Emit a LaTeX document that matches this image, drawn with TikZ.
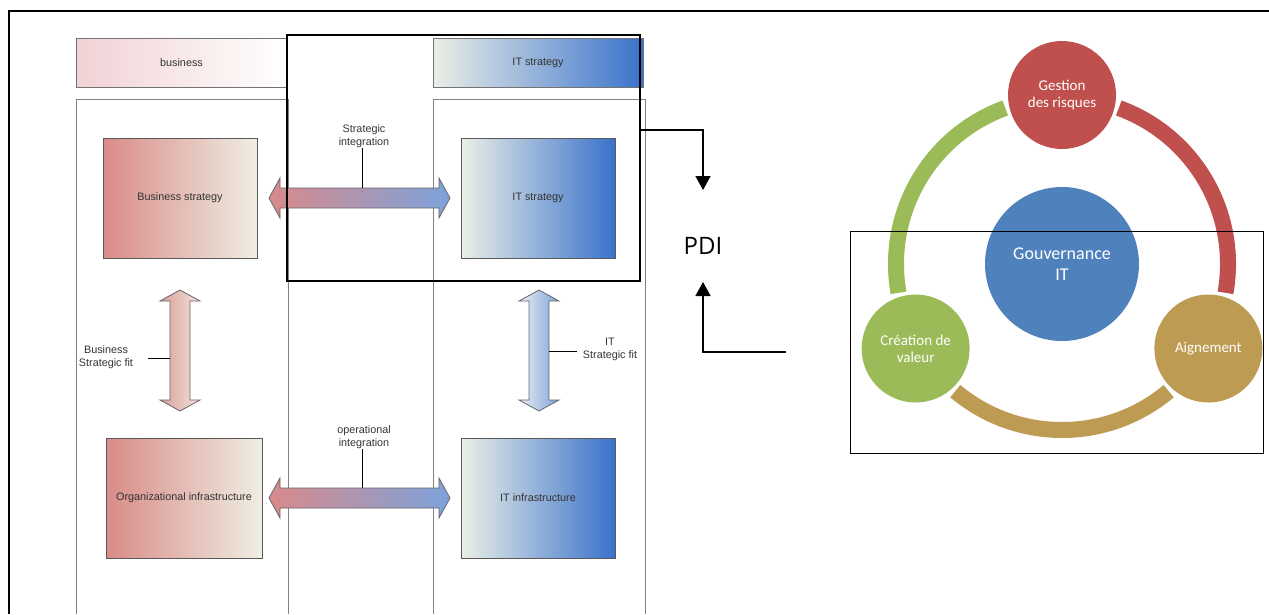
\documentclass[tikz,border=0pt]{standalone}
\usepackage{fontspec}
\usepackage{tikz}
\usetikzlibrary{arrows.meta,positioning}
\newfontfamily\lblfont{Liberation Sans}
\newfontfamily\circfont{Carlito}
\newfontfamily\pdifont{Open Sans}
\definecolor{bizpink}{HTML}{F1D2D5}
\definecolor{bizred}{HTML}{D98B88}
\definecolor{cream}{HTML}{EFEEE3}
\definecolor{itpale}{HTML}{EBEFE7}
\definecolor{itblue}{HTML}{3972CB}
\definecolor{arrred}{HTML}{D98A8B}
\definecolor{arrblue}{HTML}{7CA2DB}
\definecolor{fitred}{HTML}{D99F9A}
\definecolor{fitpale}{HTML}{F4E3DC}
\definecolor{fitpaleb}{HTML}{E8EFF7}
\definecolor{fitblue}{HTML}{7EA3D6}
\definecolor{riskred}{HTML}{C0504D}
\definecolor{valgreen}{HTML}{9BBB59}
\definecolor{aligngold}{HTML}{BE9B53}
\definecolor{govblue}{HTML}{4F81BD}
\tikzstyle{hdr}=[draw=black!55, line width=0.8pt, minimum height=49pt, inner sep=0pt, font=\lblfont\fontsize{10.8}{12.5}\selectfont, text=black!80]
\tikzstyle{blk}=[draw=black!65, line width=0.8pt, minimum width=154pt, minimum height=120pt, inner sep=0pt, font=\lblfont\fontsize{10.8}{12.5}\selectfont, text=black!80]
\tikzstyle{lbl}=[align=center, inner sep=0pt, font=\lblfont\fontsize{10.8}{13}\selectfont, text=black!80]
\tikzstyle{panel}=[draw=black!50, line width=0.8pt]
\tikzstyle{fatarrow}=[draw=black!60, line width=0.8pt]
\tikzstyle{tick}=[draw=black, line width=0.8pt]
\tikzstyle{selbox}=[draw=black, line width=1.8pt, inner sep=0pt]
\tikzstyle{flow}=[line width=1.6pt, -{Triangle[length=14pt,width=15pt]}]
\tikzstyle{ring}=[line width=16pt]
\tikzstyle{bub}=[circle, minimum size=108pt, inner sep=0pt, align=center, text=white, font=\circfont\fontsize{15}{17}\selectfont]

\begin{document}
\begin{tikzpicture}[x=1pt,y=-1pt]
\useasboundingbox (0,0) rectangle (1269,614);
\draw[line width=2pt] (9,614) -- (9,11) -- (1269,11);

\draw[panel] (76,614) |- (288,99) -- (288,614);
\draw[panel] (433,614) |- (645,99) -- (645,614);

\node[hdr, minimum width=211pt, left color=bizpink, right color=white] (bizhdr) at (181.5,63) {business};
\node[hdr, minimum width=210pt, left color=itpale, right color=itblue] (ithdr) at (538,63) {IT strategy};

\node[blk, left color=bizred, right color=cream] (bizstrat) at (180,198) {Business strategy};
\node[blk, left color=itpale, right color=itblue] (itstrat) at (538,198) {IT strategy};
\node[blk, minimum width=156pt, left color=bizred, right color=cream] (orginfra) at (184,498) {Organizational infrastructure};
\node[blk, left color=itpale, right color=itblue] (itinfra) at (538,498) {IT infrastructure};

\draw[fatarrow, left color=arrred, right color=arrblue] (269,198) -- (280,178) -- (280,188) -- (439,188) -- (439,178) -- (450,198) -- (439,218) -- (439,208) -- (280,208) -- (280,218) -- cycle;
\draw[fatarrow, left color=arrred, right color=arrblue] (269,498) -- (280,478) -- (280,488) -- (439,488) -- (439,478) -- (450,498) -- (439,518) -- (439,508) -- (280,508) -- (280,518) -- cycle;
\draw[fatarrow, left color=fitred, right color=fitpale] (180,290) -- (200,301) -- (190,301) -- (190,400) -- (200,400) -- (180,411) -- (160,400) -- (170,400) -- (170,301) -- (160,301) -- cycle;
\draw[fatarrow, left color=fitpaleb, right color=fitblue] (539,290) -- (559,301) -- (549,301) -- (549,400) -- (559,400) -- (539,411) -- (519,400) -- (529,400) -- (529,301) -- (519,301) -- cycle;

\coordinate (siTop) at (362,188);
\coordinate (oiTop) at (362,488);
\coordinate (bfLeft) at (170,358);
\coordinate (itfRight) at (549,351);

\node[lbl] (silbl) at (364,136) {Strategic\\integration};
\node[lbl] (oilbl) at (364,437) {operational\\integration};
\node[lbl] (bflbl) at (106,357) {Business\\Strategic fit};
\node[lbl] (itflbl) at (610,349) {IT\\Strategic fit};

\draw[tick] (silbl.south -| siTop) -- (siTop);
\draw[tick] (oilbl.south -| oiTop) -- (oiTop);
\draw[tick, shorten >=15pt] (bfLeft) -- (bflbl.east |- bfLeft);
\draw[tick, shorten >=6pt] (itfRight) -- (itflbl.west |- itfRight);

\node[selbox, minimum width=353pt, minimum height=246pt] (sel) at (463.5,158) {};

\node[font=\pdifont\fontsize{24}{28}\selectfont] (pdi) at (703,246) {PDI};
\coordinate (aligIn) at (786,352);
\draw[flow] ([yshift=28pt]sel.east) -| ([yshift=56pt]pdi.center);
\draw[flow] (aligIn) -| ([yshift=-36pt]pdi.center);

\node[bub, fill=govblue, minimum size=154pt, font=\circfont\fontsize{18}{21}\selectfont] (gov) at (1062,264) {Gouvernance\\IT};
\draw[ring, draw=valgreen] ([shift={(110:166pt)}]gov.center) arc[start angle=110, end angle=190, radius=166pt];
\draw[ring, draw=riskred] ([shift={(70:166pt)}]gov.center) arc[start angle=70, end angle=-10, radius=166pt];
\draw[ring, draw=aligngold] ([shift={(230:166pt)}]gov.center) arc[start angle=230, end angle=310, radius=166pt];
\node[bub, fill=riskred] (risk) at ([shift={(90:169pt)}]gov.center) {Gestion\\des risques};
\node[bub, fill=valgreen] (value) at ([shift={(210:169pt)}]gov.center) {Création de\\valeur};
\node[bub, fill=aligngold] (align) at ([shift={(330:169pt)}]gov.center) {Aignement};

\node[selbox, minimum width=413pt, minimum height=222pt] (focus) at (1057,342.5) {};
\end{tikzpicture}
\end{document}
